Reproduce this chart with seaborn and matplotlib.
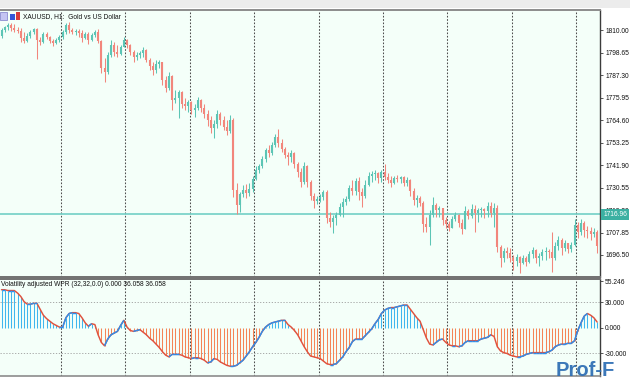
import numpy as np
import pandas as pd
import matplotlib
matplotlib.use("Agg")
import matplotlib.pyplot as plt
import seaborn as sns
from matplotlib.collections import LineCollection
from matplotlib.patches import Rectangle

# ---------------- data ----------------
symbol_title = "XAUUSD, H1:  Gold vs US Dollar"
indicator_title = "Volatility adjusted WPR (32,32,0.0) 0.000 36.058 36.058"
current_price = 1716.96
price_ticks = [1810.00, 1798.65, 1787.30, 1775.95, 1764.60, 1753.25,
               1741.90, 1730.55, 1719.20, 1707.85, 1696.50]
indicator_ticks = [55.246, 30.0, 0.0, -30.0]
indicator_levels = [30.0, -30.0]

first_open = 1807.0
highs = [
    1811.0, 1812.0, 1813.5, 1813.5, 1813.0, 1811.5, 1811.0, 1809.0, 1808.5, 1810.0,
    1811.0, 1811.0, 1806.5, 1809.0, 1809.0, 1807.0, 1805.5, 1806.0, 1807.5, 1810.0,
    1813.5, 1814.0, 1811.0, 1810.5, 1810.5, 1810.0, 1809.0, 1809.0, 1808.5, 1810.0,
    1810.5, 1805.0, 1795.9, 1798.9, 1805.0, 1803.9, 1802.4, 1802.4, 1806.5, 1805.5,
    1802.9, 1799.9, 1798.9, 1799.4, 1801.4, 1800.4, 1795.9, 1793.9, 1794.9, 1794.9,
    1793.9, 1786.8, 1788.8, 1787.3, 1779.7, 1779.7, 1779.2, 1775.7, 1774.7, 1774.2,
    1772.7, 1776.2, 1775.2, 1772.7, 1769.6, 1766.6, 1764.6, 1769.6, 1768.6, 1766.6,
    1764.6, 1767.1, 1765.6, 1732.8, 1728.3, 1731.8, 1732.3, 1732.8, 1736.4, 1741.4,
    1742.4, 1746.4, 1750.5, 1752.0, 1753.5, 1757.5, 1760.1, 1755.0, 1751.0, 1748.5,
    1749.5, 1748.5, 1743.4, 1740.4, 1743.4, 1741.9, 1734.3, 1727.8, 1726.3, 1727.3,
    1729.3, 1729.3, 1718.2, 1716.7, 1718.2, 1722.7, 1725.3, 1726.3, 1731.8, 1734.3,
    1735.4, 1735.9, 1730.3, 1734.3, 1738.4, 1738.9, 1739.4, 1738.4, 1739.4, 1742.4,
    1737.9, 1736.4, 1736.4, 1736.9, 1736.4, 1736.4, 1735.9, 1734.8, 1730.3, 1726.8,
    1726.3, 1723.7, 1715.7, 1719.2, 1725.8, 1722.7, 1721.2, 1720.2, 1715.7, 1713.7,
    1716.2, 1718.2, 1717.2, 1714.7, 1721.2, 1719.7, 1722.2, 1721.7, 1720.2, 1720.7,
    1720.2, 1723.2, 1723.2, 1722.7, 1721.7, 1701.6, 1700.0, 1700.5, 1700.0, 1696.5,
    1697.0, 1696.0, 1696.5, 1696.0, 1698.5, 1700.5, 1699.5, 1697.5, 1699.5, 1700.5,
    1699.5, 1708.1, 1703.1, 1706.1, 1705.1, 1704.1, 1702.6, 1703.1, 1714.7, 1713.2,
    1714.7, 1713.7, 1711.1, 1710.6, 1710.1, 1709.1,
]
lows = [
    1806.0, 1809.0, 1810.0, 1809.5, 1809.0, 1808.5, 1803.9, 1803.4, 1803.9, 1806.0,
    1808.0, 1795.4, 1802.4, 1803.4, 1805.5, 1803.4, 1801.9, 1802.9, 1803.9, 1805.5,
    1808.0, 1808.5, 1808.0, 1807.5, 1806.5, 1803.9, 1805.5, 1802.9, 1804.4, 1806.5,
    1803.4, 1788.3, 1783.8, 1787.8, 1796.4, 1796.9, 1796.4, 1797.4, 1801.4, 1800.9,
    1797.4, 1793.9, 1794.9, 1795.9, 1796.4, 1793.9, 1789.8, 1787.3, 1788.3, 1790.8,
    1782.3, 1778.7, 1779.7, 1769.6, 1773.2, 1765.6, 1770.7, 1769.6, 1768.6, 1767.6,
    1766.1, 1769.6, 1768.6, 1765.6, 1761.6, 1758.0, 1755.5, 1760.6, 1762.1, 1759.6,
    1757.0, 1758.0, 1725.8, 1717.2, 1718.2, 1725.8, 1725.3, 1726.3, 1728.3, 1734.3,
    1737.9, 1740.4, 1743.4, 1745.9, 1746.9, 1751.0, 1751.0, 1748.5, 1745.4, 1741.9,
    1743.4, 1740.4, 1735.9, 1730.8, 1732.3, 1730.8, 1724.3, 1720.2, 1722.2, 1723.2,
    1724.3, 1712.7, 1710.6, 1707.6, 1711.6, 1716.2, 1715.7, 1721.7, 1723.7, 1726.8,
    1726.8, 1724.3, 1720.7, 1725.3, 1731.3, 1733.3, 1734.3, 1732.8, 1733.3, 1734.3,
    1732.8, 1730.8, 1732.3, 1733.3, 1732.8, 1731.3, 1731.3, 1726.3, 1721.7, 1720.7,
    1721.2, 1708.1, 1708.1, 1701.6, 1715.7, 1715.7, 1715.7, 1711.6, 1710.1, 1708.6,
    1710.1, 1713.7, 1710.6, 1707.1, 1709.6, 1714.7, 1715.2, 1708.1, 1713.2, 1715.7,
    1715.2, 1715.7, 1715.7, 1710.6, 1698.0, 1690.4, 1693.0, 1695.0, 1693.0, 1688.9,
    1690.9, 1687.4, 1692.0, 1690.9, 1692.5, 1695.0, 1692.5, 1690.9, 1694.0, 1694.0,
    1695.0, 1687.9, 1694.0, 1699.0, 1696.5, 1698.5, 1697.5, 1698.0, 1701.1, 1705.1,
    1706.6, 1705.6, 1705.1, 1704.1, 1705.6, 1697.5,
]
closes = [
    1810.0, 1811.5, 1812.5, 1811.0, 1810.0, 1809.5, 1806.0, 1804.4, 1807.0, 1809.0,
    1810.5, 1805.0, 1803.9, 1808.0, 1806.5, 1804.4, 1803.4, 1805.0, 1806.5, 1809.0,
    1812.5, 1810.0, 1809.0, 1809.5, 1808.5, 1806.0, 1808.0, 1805.0, 1807.5, 1809.0,
    1804.4, 1790.8, 1788.8, 1797.4, 1802.4, 1798.9, 1797.9, 1801.4, 1805.0, 1802.4,
    1798.9, 1796.4, 1797.4, 1798.4, 1799.9, 1794.9, 1791.8, 1789.8, 1792.8, 1793.9,
    1784.8, 1780.7, 1786.8, 1774.7, 1775.7, 1778.7, 1772.7, 1771.7, 1773.7, 1769.6,
    1770.7, 1774.7, 1770.7, 1767.6, 1764.6, 1760.6, 1762.6, 1767.6, 1764.6, 1761.1,
    1759.1, 1764.6, 1729.3, 1721.7, 1727.3, 1729.3, 1727.8, 1729.8, 1734.8, 1739.4,
    1741.4, 1744.9, 1749.5, 1747.9, 1752.0, 1756.0, 1753.0, 1750.0, 1746.9, 1745.9,
    1747.9, 1742.4, 1738.4, 1733.3, 1741.4, 1733.3, 1726.3, 1723.7, 1724.8, 1725.8,
    1728.3, 1715.2, 1713.2, 1715.2, 1716.7, 1720.7, 1723.2, 1724.8, 1730.3, 1728.8,
    1733.8, 1728.3, 1726.3, 1731.8, 1736.4, 1737.4, 1737.9, 1735.4, 1738.4, 1735.9,
    1734.3, 1732.8, 1735.4, 1734.8, 1735.9, 1732.8, 1734.3, 1728.8, 1724.3, 1725.3,
    1722.7, 1712.1, 1710.6, 1716.7, 1721.7, 1719.2, 1720.2, 1714.2, 1712.1, 1710.1,
    1714.7, 1716.7, 1712.7, 1709.6, 1718.7, 1716.2, 1719.7, 1717.7, 1719.2, 1719.7,
    1718.7, 1721.2, 1717.7, 1720.2, 1700.5, 1695.0, 1698.5, 1697.5, 1695.0, 1693.5,
    1695.5, 1692.5, 1695.0, 1693.0, 1697.0, 1699.0, 1695.0, 1696.0, 1698.0, 1698.5,
    1698.0, 1695.0, 1701.1, 1704.1, 1700.0, 1702.6, 1699.5, 1701.6, 1711.6, 1708.1,
    1712.7, 1709.1, 1708.6, 1707.1, 1708.1, 1701.1,
]
wpr = [
    45, 45, 44, 44, 44, 41, 37, 31, 28, 28,
    29, 29, 22, 15, 11, 8, 5, 3, 1, 1,
    12, 17, 18, 18, 17, 12, 6, 2, 5, 4,
    -8, -17, -21, -13, -8, -6, -4, 3, 9, 1,
    -3, -4, -3, -2, -5, -8, -12, -15, -19, -23,
    -28, -32, -34, -31, -31, -31, -32, -34, -35, -36,
    -35, -35, -36, -38, -41, -40, -36, -37, -40, -42,
    -44, -45, -45, -44, -41, -38, -33, -28, -22, -17,
    -11, -4, 1, 4, 6, 7, 8, 9, 9, 4,
    1, -3, -8, -15, -22, -28, -33, -34, -35, -36,
    -39, -42, -43, -43, -42, -38, -34, -28, -23, -16,
    -13, -13, -13, -9, -5, -1, 5, 10, 17, 21,
    23, 24, 24, 25, 26, 27, 27, 22, 17, 12,
    8, -2, -12, -19, -20, -17, -14, -13, -17, -20,
    -21, -21, -22, -21, -17, -15, -15, -15, -15, -13,
    -12, -11, -8, -10, -22, -27, -29, -30, -32, -33,
    -34, -34, -33, -31, -30, -29, -29, -29, -29, -29,
    -28, -26, -22, -20, -19, -19, -18, -18, -15, -3,
    6, 14, 17, 15, 12, 7,
]

n = len(closes)
opens = [first_open] + closes[:-1]
df = pd.DataFrame({"bar": np.arange(n), "open": opens, "high": highs,
                   "low": lows, "close": closes, "wpr": wpr})

# ---------------- style ----------------
sns.set_theme(style="white")
plt.rcParams["font.family"] = ["Liberation Sans", "DejaVu Sans"]

BG = "#f4fff9"
UP = "#5cc5b5"
DN = "#f2867c"
GRID = "#4d4d4d"
FS = 4.8

W, H = 630, 380
def rect(x0, y0, x1, y1):
    return [x0 / W, 1 - y1 / H, (x1 - x0) / W, (y1 - y0) / H]

fig = plt.figure(figsize=(6.3, 3.8), dpi=100, facecolor="white")
fig.patches.append(Rectangle((0, 1 - 8 / H), 1, 8 / H, transform=fig.transFigure,
                             fc="#ececec", ec="none", zorder=0))
ax = fig.add_axes(rect(0, 10, 600, 277))
ax2 = fig.add_axes(rect(0, 279, 600, 376), sharex=ax)

for a in (ax, ax2):
    a.set_facecolor(BG)
    a.spines["left"].set_visible(False)
    a.spines["right"].set_color("#3c3c3c")
    a.spines["right"].set_linewidth(1.0)
    a.tick_params(axis="x", bottom=False, labelbottom=False)
    a.yaxis.tick_right()
    a.tick_params(axis="y", which="both", direction="out", length=2.5, width=0.6,
                  color="#3c3c3c", pad=1.2, labelsize=FS, labelcolor="#111111",
                  left=False, right=True, labelleft=False, labelright=True)
ax.spines["top"].set_color("#8c8c8c")
ax.spines["top"].set_linewidth(1.4)
ax.spines["bottom"].set_color("#707070")
ax.spines["bottom"].set_linewidth(1.4)
ax2.spines["top"].set_color("#707070")
ax2.spines["top"].set_linewidth(1.4)
ax2.spines["bottom"].set_color("#8c8c8c")
ax2.spines["bottom"].set_linewidth(1.2)

# vertical grid (every 20 bars)
grid_pos = [18.5 + 20 * k for k in range(9)]
for a in (ax, ax2):
    for g in grid_pos:
        a.axvline(g, color=GRID, lw=0.75, ls=(0, (1.6, 1.6)), zorder=1)

# ---------------- candles ----------------
up = df["close"] >= df["open"]
cols = np.where(up, UP, DN)
ax.vlines(df["bar"], df["low"], df["high"], colors=cols, lw=0.75, zorder=3)
ax.vlines(df["bar"], df["open"], df["close"], colors=cols, lw=1.5, zorder=4)
ax.axhline(current_price, color="#72d0c6", lw=1.2, zorder=2)

ax.set_xlim(-0.47, 185.9)
ax.set_ylim(1685.4, 1820.1)
ax.set_yticks(price_ticks)
ax.set_yticklabels([f"{v:.2f}" for v in price_ticks])
ax.annotate(f"{current_price:.2f}", xy=(1.0, current_price),
            xycoords=("axes fraction", "data"), xytext=(2.2, 0),
            textcoords="offset points", ha="left", va="center", fontsize=FS,
            color="white", zorder=10, annotation_clip=False,
            bbox=dict(boxstyle="square,pad=0.28", fc="#3cb0a2", ec="none"))

# header icons and title
ax.add_patch(Rectangle((0.0, 0.962), 0.012, 0.03, transform=ax.transAxes,
                       fc="#c4c4f2", ec="#7a7ac8", lw=0.5, zorder=6))
ax.add_patch(Rectangle((0.017, 0.962), 0.008, 0.022, transform=ax.transAxes,
                       fc="#3456d8", ec="none", zorder=6))
ax.add_patch(Rectangle((0.026, 0.962), 0.007, 0.03, transform=ax.transAxes,
                       fc="#d83a3a", ec="none", zorder=6))
ax.text(23 / 600, 1 - 6.5 / 267, symbol_title, transform=ax.transAxes,
        fontsize=FS, ha="left", va="center", color="#111111", zorder=7)

# ---------------- indicator ----------------
hist_cols = np.where(df["wpr"] >= 0, "#40b6ee", "#f58456")
ax2.vlines(df["bar"], 0, df["wpr"], colors=hist_cols, lw=0.75, zorder=2)
for lv in indicator_levels:
    ax2.axhline(lv, color="#9c9c9c", lw=0.6, ls=(0, (1.5, 2.0)), zorder=1)

sns.lineplot(data=df, x="bar", y="wpr", ax=ax2, color="#e0523e", lw=1.05,
             zorder=4, legend=False)
pts = df[["bar", "wpr"]].to_numpy(dtype=float)
segs = np.stack([pts[:-1], pts[1:]], axis=1)
rising = np.diff(df["wpr"].to_numpy()) >= 0
ax2.add_collection(LineCollection(segs[rising], colors="#2a8ff0", lw=1.05, zorder=5))

ax2.set_ylim(-56.5, 57.6)
ax2.set_yticks(indicator_ticks)
ax2.set_yticklabels([f"{v:.3f}" for v in indicator_ticks])
ax2.set_xlabel("")
ax2.set_ylabel("")
ax.set_ylabel("")
ax2.text(0.001, 1 - 6 / 97, indicator_title, transform=ax2.transAxes,
         fontsize=FS, ha="left", va="center", color="#111111", zorder=7)

fig.text(556 / W, 0.5 / H, "Prof-F", fontsize=14.5, fontweight="bold",
         color="#2b6cb3", ha="left", va="bottom", alpha=0.92)

fig.savefig("out.png", dpi=100, facecolor="white")
